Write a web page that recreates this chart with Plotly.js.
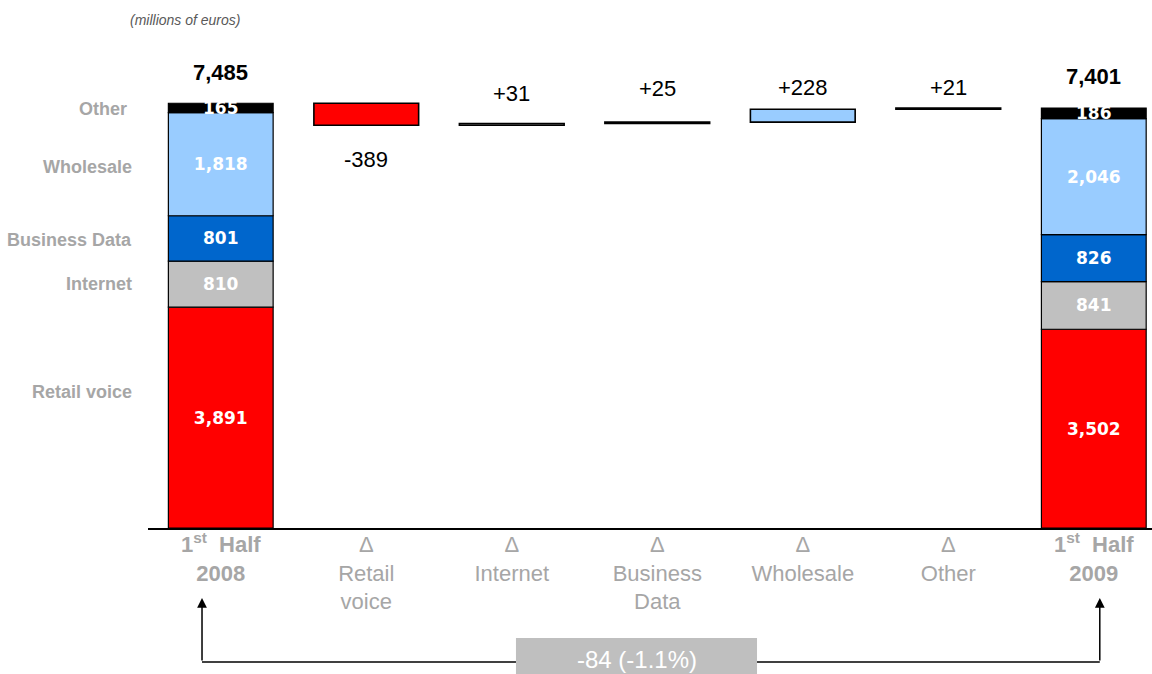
<!DOCTYPE html>
<html>
<head>
<meta charset="utf-8">
<script src="https://cdn.plot.ly/plotly-3.0.1.min.js"></script>
<style>html,body{margin:0;padding:0;background:#fff;}#chart{width:1152px;height:674px;}</style>
</head>
<body>
<div id="chart"></div>
<script>
// ---- data ----
const categories = ['H1 2008', 'Δ Retail voice', 'Δ Internet', 'Δ Business Data', 'Δ Wholesale', 'Δ Other', 'H1 2009'];
const tickLabels = ['<b>1<sup>st</sup>  Half</b><br><b>2008</b>', 'Δ<br>Retail<br>voice', 'Δ<br>Internet', 'Δ<br>Business<br>Data', 'Δ<br>Wholesale', 'Δ<br>Other', '<b>1<sup>st</sup>  Half</b><br><b>2009</b>'];
const segmentNames = ['Retail voice', 'Internet', 'Business Data', 'Wholesale', 'Other'];
const h1_2008 = [3891, 810, 801, 1818, 165];
const h1_2009 = [3502, 841, 826, 2046, 186];
const deltas = [-389, 31, 25, 228, 21];
const deltaLabels = ['-389', '+31', '+25', '+228', '+21'];
const totals = [7485, 7401];
const totalLabels = ['7,485', '7,401'];
const segmentColors = ['#ff0000', '#c0c0c0', '#0066cc', '#99ccff', '#000000'];
const unitNote = '(millions of euros)';

// ---- traces ----
const traces = [];
const BW = 0.72;
let base08 = 0, base09 = 0;
const midpoints08 = [];
segmentNames.forEach((name, i) => {
  traces.push({
    type: 'bar', name: name,
    x: [categories[0], categories[6]],
    y: [h1_2008[i], h1_2009[i]],
    base: [base08, base09],
    width: BW,
    marker: {color: segmentColors[i], line: {color: '#000', width: 1.2}},
    texttemplate: '%{y:,}',
    textposition: 'inside',
    insidetextanchor: 'middle',
    constraintext: 'none',
    textangle: 0,
    textfont: {family: 'DejaVu Sans', size: 17, color: '#ffffff', weight: 'bold'},
    hoverinfo: 'skip'
  });
  midpoints08.push(base08 + h1_2008[i] / 2);
  base08 += h1_2008[i];
  base09 += h1_2009[i];
});

// delta (waterfall) bars
let running = totals[0];
const dBase = [], dHeight = [], dTop = [], dBottom = [];
deltas.forEach(d => {
  const end = running + d;
  dBase.push(Math.min(running, end));
  dHeight.push(Math.abs(d));
  dTop.push(Math.max(running, end));
  dBottom.push(Math.min(running, end));
  running = end;
});
traces.push({
  type: 'bar', name: 'delta',
  x: categories.slice(1, 6),
  y: dHeight,
  base: dBase,
  width: BW,
  marker: {color: segmentColors, line: {color: '#000', width: 1.6}},
  hoverinfo: 'skip'
});

// ---- annotations ----
const annotations = [];
// totals
[0, 6].forEach((ci, k) => {
  annotations.push({x: categories[ci], y: totals[k], xref: 'x', yref: 'y', text: '<b>' + totalLabels[k] + '</b>',
    showarrow: false, yanchor: 'middle', yshift: 31,
    font: {family: 'Liberation Sans', size: 22, color: '#000'}});
});
// delta labels
const deltaShift = [-34, 30, 34, 22, 20];
deltas.forEach((d, i) => {
  annotations.push({x: categories[i + 1], y: d < 0 ? dBottom[i] : dTop[i], xref: 'x', yref: 'y',
    text: deltaLabels[i], showarrow: false, yanchor: 'middle', yshift: deltaShift[i],
    font: {family: 'Liberation Sans', size: 22, color: '#000'}});
});
// left segment names
const labelShift = [26, 0, -2, -3, -1];
segmentNames.forEach((name, i) => {
  annotations.push({x: i === 4 ? -0.019 : -0.014, xref: 'paper', y: midpoints08[i], yref: 'y', text: '<b>' + name + '</b>',
    showarrow: false, xanchor: 'right', yanchor: 'middle', yshift: labelShift[i],
    font: {family: 'Liberation Sans', size: 18, color: '#a6a6a6'}});
});
// unit note
annotations.push({x: 0.037, xref: 'paper', y: 1.119, yref: 'paper', text: '<i>' + unitNote + '</i>',
  showarrow: false, xanchor: 'center', yanchor: 'middle',
  font: {family: 'Liberation Sans', size: 14, color: '#595959'}});
// change box text
const diff = totals[1] - totals[0];
const pct = (diff / totals[0] * 100).toFixed(1);
annotations.push({x: 0.4866, xref: 'paper', y: -0.2895, yref: 'paper', text: diff + ' (' + pct + '%)',
  showarrow: false, xanchor: 'center', yanchor: 'middle',
  font: {family: 'Liberation Sans', size: 24, color: '#ffffff'}});
// arrows
[0.0538, 0.948].forEach(px => {
  annotations.push({x: px, xref: 'paper', y: -0.1542, yref: 'paper', ax: 0, ay: 64, axref: 'pixel', ayref: 'pixel',
    text: '', showarrow: true, arrowhead: 2, arrowsize: 1.3, arrowwidth: 1.5, arrowcolor: '#000'});
});

const shapes = [
  {type: 'rect', xref: 'paper', yref: 'paper', x0: 0.3665, x1: 0.6066, y0: -0.33, y1: -0.2423,
    fillcolor: '#bfbfbf', line: {width: 0}},
  {type: 'line', xref: 'paper', yref: 'paper', x0: 0.0538, x1: 0.3665, y0: -0.2952, y1: -0.2952,
    line: {color: '#000', width: 1.5}},
  {type: 'line', xref: 'paper', yref: 'paper', x0: 0.6066, x1: 0.948, y0: -0.2952, y1: -0.2952,
    line: {color: '#000', width: 1.5}}
];

const layout = {
  width: 1152, height: 674,
  margin: {l: 148, r: 0, t: 74, b: 146},
  paper_bgcolor: '#ffffff', plot_bgcolor: '#ffffff',
  barmode: 'overlay',
  showlegend: false,
  xaxis: {
    type: 'category', categoryorder: 'array', categoryarray: categories,
    tickvals: categories, ticktext: tickLabels,
    range: [-0.5, 6.4],
    showline: true, linecolor: '#000', linewidth: 1.5,
    showgrid: false, zeroline: false, ticks: '',
    ticklabelstandoff: -4,
    tickfont: {family: 'Liberation Sans', size: 22, color: '#a6a6a6'}
  },
  yaxis: {range: [0, 8000], visible: false, showgrid: false, zeroline: false},
  annotations: annotations,
  shapes: shapes,
  font: {family: 'Liberation Sans'}
};

Plotly.newPlot('chart', traces, layout, {displayModeBar: false, staticPlot: true});
</script>
</body>
</html>
